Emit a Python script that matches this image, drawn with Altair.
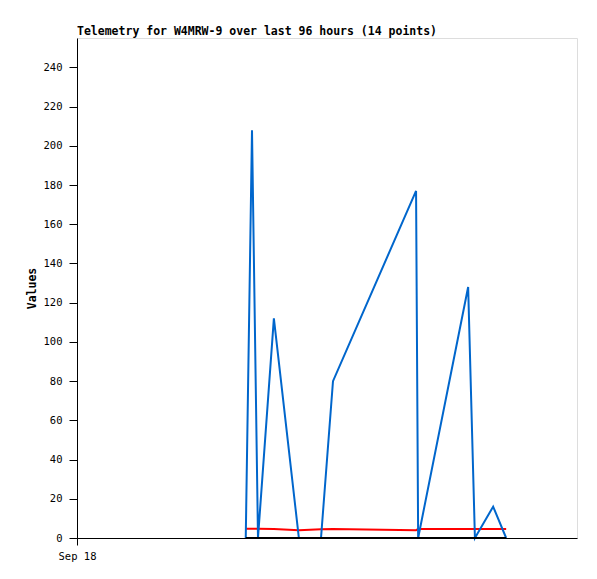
import altair as alt
import pandas as pd

# hours since Sep 18 00:00 (x axis spans 96 hours)
hours = [32.4, 33.6, 34.75, 37.8, 42.6, 46.85, 49.15, 65.1, 65.5, 75.1, 76.4, 79.9, 82.4]
blue_vals = [0, 208, 0, 112, 0, 0, 80, 177, 0, 128, 0, 16, 0]
red_vals = [4.7, 4.7, 4.7, 4.6, 4.0, 4.4, 4.6, 4.0, 4.6, 4.6, 4.6, 4.6, 4.6]
black_vals = [0, 0, 0, 0, 0, 0, 0, 0, 0, 0, 0, 0, 0]
y_ticks = list(range(0, 241, 20))

FONT = "DejaVu Sans Mono"

def series(vals):
    return pd.DataFrame({"h": hours, "v": vals})

xenc = alt.X("h:Q", scale=alt.Scale(domain=[0, 96], nice=False, zero=False),
             axis=alt.Axis(values=[0], labelExpr="'Sep 18'", title=None, grid=False,
                           domainColor="black", tickColor="black", tickSize=7,
                           labelFont=FONT, labelFontSize=10.5, labelColor="black",
                           labelPadding=6, labelFlush=False, labelAlign="center"))
yenc = alt.Y("v:Q", scale=alt.Scale(domain=[0, 255], nice=False),
             axis=alt.Axis(values=y_ticks, title="Values", grid=False,
                           domainColor="black", tickColor="black", tickSize=8,
                           labelFont=FONT, labelFontSize=10.5, labelColor="black",
                           labelPadding=7, titleFont=FONT, titleFontSize=11.5,
                           titleFontWeight="bold", titleColor="black", titlePadding=6))

red = alt.Chart(series(red_vals)).mark_line(color="#ff0000", strokeWidth=2, interpolate="linear").encode(x=xenc, y=yenc)
blue = alt.Chart(series(blue_vals)).mark_line(color="#0066cc", strokeWidth=2).encode(x=xenc, y=yenc)
black = alt.Chart(series(black_vals)).mark_line(color="#000000", strokeWidth=2).encode(x=xenc, y=yenc)

chart = alt.layer(red, blue, black).properties(
    width=500, height=500,
    title=alt.TitleParams("Telemetry for W4MRW-9 over last 96 hours (14 points)",
                          anchor="start", frame="group", font=FONT, fontSize=11.5,
                          fontWeight="bold", color="black", offset=1),
    autosize=alt.AutoSizeParams(type="none"),
    padding={"left": 69, "top": 30, "right": 12, "bottom": 30},
).configure_view(stroke="#444444", strokeWidth=1).configure(background="white")

chart.save("out.html", embed_options={"renderer": "svg", "actions": False})
